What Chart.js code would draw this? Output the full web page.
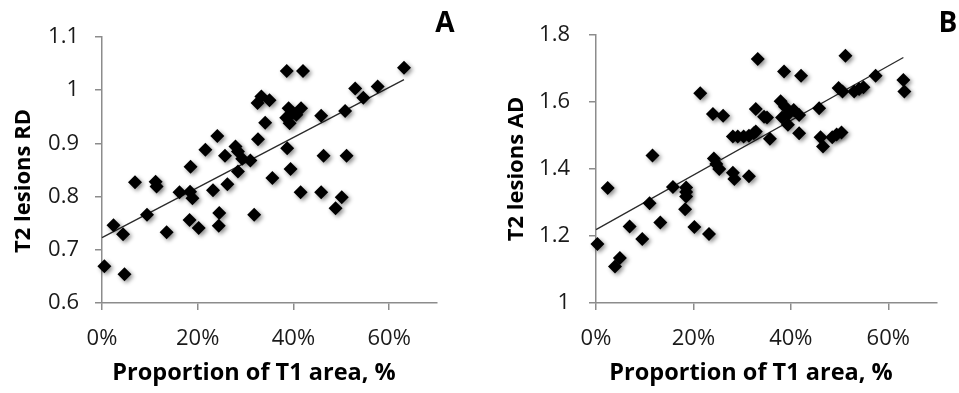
<!DOCTYPE html>
<html>
<head>
<meta charset="utf-8">
<script src="https://cdn.jsdelivr.net/npm/chart.js@4.4.1/dist/chart.umd.min.js"></script>
<style>
  html, body { margin: 0; padding: 0; background: #fff; }
  #wrap { position: relative; width: 959px; height: 393px; overflow: hidden; }
  .pane { position: absolute; top: 0; height: 393px; }
</style>
</head>
<body>
<div id="wrap">
  <div class="pane" style="left:0;width:480px"><canvas id="cA" width="480" height="393"></canvas></div>
  <div class="pane" style="left:480px;width:479px"><canvas id="cB" width="479" height="393"></canvas></div>
</div>
<script>
// ---------- Data ----------
const xTickValues = [0, 20, 40, 60];
const xTickLabels = ['0%', '20%', '40%', '60%'];

// Panel A: T2 lesions RD vs proportion of T1 area (%)
const rdProportion = [0.5, 2.4, 4.4, 4.7, 6.9, 9.4, 11.2, 11.4, 13.5, 16.2, 18.5, 18.4, 18.9, 18.3, 20.2, 21.6, 24.1, 23.2, 24.5, 24.4,
  25.7, 26.2, 27.9, 28.4, 28.4, 29.3, 31.0, 31.8, 32.6, 32.5, 33.3, 35.0, 34.1, 35.6, 38.6, 42.0, 38.5, 39.0, 39.9, 39.2,
  41.6, 40.6, 38.7, 39.4, 41.5, 45.8, 46.3, 45.8, 48.8, 50.1, 50.8, 51.1, 52.9, 54.6, 57.6, 63.1];
const rdValues = [0.669, 0.746, 0.729, 0.654, 0.827, 0.766, 0.828, 0.819, 0.733, 0.808, 0.856, 0.809, 0.797, 0.756, 0.741, 0.888, 0.914, 0.812, 0.769, 0.745,
  0.877, 0.823, 0.894, 0.885, 0.847, 0.871, 0.868, 0.766, 0.908, 0.976, 0.988, 0.981, 0.939, 0.835, 1.036, 1.036, 0.948, 0.966, 0.957, 0.938,
  0.966, 0.954, 0.891, 0.852, 0.808, 0.952, 0.877, 0.808, 0.778, 0.799, 0.961, 0.877, 1.003, 0.986, 1.007, 1.042];
const rdTrendX = [0, 63.1];
const rdTrendY = [0.723, 1.020];
const rdTicks = [0.6, 0.7, 0.8, 0.9, 1.0, 1.1];
const rdTickLabels = ['0.6', '0.7', '0.8', '0.9', '1', '1.1'];

// Panel B: T2 lesions AD vs proportion of T1 area (%)
const adProportion = [0.3, 2.4, 3.9, 4.9, 6.9, 9.5, 11.6, 11.0, 13.2, 15.8, 18.5, 18.5, 18.5, 18.3, 20.2, 21.4, 23.2, 24.0, 26.1, 24.2,
  24.7, 25.3, 28.1, 28.4, 28.1, 29.1, 30.3, 31.4, 32.4, 32.8, 31.4, 33.2, 32.8, 34.5, 35.1, 35.7, 37.9, 38.6, 38.2, 38.8,
  39.4, 39.6, 40.6, 41.7, 42.1, 41.7, 45.8, 46.1, 46.6, 48.5, 49.4, 50.4, 49.8, 50.6, 51.2, 53.0, 54.0, 54.9, 57.4, 63.1, 63.3];
const adValues = [1.176, 1.343, 1.109, 1.134, 1.228, 1.191, 1.440, 1.298, 1.240, 1.346, 1.345, 1.331, 1.318, 1.280, 1.227, 1.626, 1.206, 1.564, 1.559, 1.431,
  1.415, 1.400, 1.389, 1.370, 1.497, 1.497, 1.497, 1.499, 1.507, 1.512, 1.378, 1.728, 1.579, 1.556, 1.554, 1.490, 1.602, 1.691, 1.554, 1.586,
  1.532, 1.566, 1.576, 1.561, 1.678, 1.507, 1.581, 1.495, 1.467, 1.495, 1.503, 1.509, 1.642, 1.631, 1.738, 1.631, 1.639, 1.644, 1.678, 1.666, 1.631];
const adTrendX = [0, 63.1];
const adTrendY = [1.219, 1.733];
const adTicks = [1.0, 1.2, 1.4, 1.6, 1.8];
const adTickLabels = ['1', '1.2', '1.4', '1.6', '1.8'];

const panelLetters = ['A', 'B'];
const yTitles = ['T2 lesions RD', 'T2 lesions AD'];
const xTitle = 'Proportion of T1 area, %';

// ---------- Helpers ----------
const FONT = '"Open Sans", "DejaVu Sans", sans-serif';
const AXIS = '#8c8c8c';

const shadowPlugin = {
  id: 'markerShadow',
  beforeDatasetDraw(chart, args) {
    if (args.index !== 0) return;
    const c = chart.ctx;
    c.save();
    c.shadowColor = 'rgba(0,0,0,0.45)';
    c.shadowBlur = 4;
    c.shadowOffsetX = 2;
    c.shadowOffsetY = 2;
  },
  afterDatasetDraw(chart, args) {
    if (args.index !== 0) return;
    chart.ctx.restore();
  }
};

const textPlugin = {
  id: 'panelText',
  afterDraw(chart, args, o) {
    const c = chart.ctx;
    c.save();
    c.fillStyle = '#000';
    c.textAlign = 'center';
    c.textBaseline = 'middle';
    c.font = 'bold 28px ' + FONT;
    c.fillText(o.letter, o.letterX, o.letterY);
    c.font = 'bold 23.5px ' + FONT;
    c.fillText(o.xTitle, o.xTitleX, o.xTitleY);
    c.translate(o.yTitleX, o.yTitleY);
    c.rotate(-Math.PI / 2);
    c.font = 'bold 22px ' + FONT;
    c.fillText(o.yTitle, 0, 0);
    c.restore();
  }
};

function makeChart(id, cfg) {
  const pts = cfg.xs.map((x, i) => ({ x: x, y: cfg.ys[i] }));
  const trend = cfg.tx.map((x, i) => ({ x: x, y: cfg.ty[i] }));
  return new Chart(document.getElementById(id), {
    type: 'scatter',
    data: {
      datasets: [
        {
          data: pts,
          pointStyle: 'rectRot',
          pointRadius: 7,
          pointHoverRadius: 7,
          backgroundColor: '#000',
          borderColor: '#000',
          borderWidth: 0,
          clip: false,
          order: 0
        },
        {
          type: 'line',
          data: trend,
          borderColor: '#2a2a2a',
          borderWidth: 1.3,
          pointRadius: 0,
          fill: false,
          clip: false,
          order: 1
        }
      ]
    },
    options: {
      responsive: false,
      animation: false,
      events: [],
      layout: { padding: { left: 0, top: cfg.top, right: cfg.right, bottom: 0 } },
      plugins: {
        legend: { display: false },
        tooltip: { enabled: false },
        panelText: cfg.text
      },
      scales: {
        x: {
          type: 'linear',
          min: 0, max: 70,
          afterFit: s => { s.height = 393 - cfg.bottom; },
          afterBuildTicks: s => { s.ticks = xTickValues.map(v => ({ value: v })); },
          ticks: {
            autoSkip: false,
            maxRotation: 0,
            padding: 16,
            color: '#1a1a1a',
            font: { family: FONT, size: 22 },
            callback: v => xTickLabels[xTickValues.indexOf(v)]
          },
          grid: { drawOnChartArea: false, drawTicks: true, tickLength: 7, color: AXIS, lineWidth: 1.5 },
          border: { display: true, color: AXIS, width: 1.5 }
        },
        y: {
          type: 'linear',
          min: cfg.yTicks[0], max: cfg.yTicks[cfg.yTicks.length - 1],
          afterFit: s => { s.width = cfg.left; },
          afterBuildTicks: s => { s.ticks = cfg.yTicks.map(v => ({ value: v })); },
          ticks: {
            autoSkip: false,
            padding: cfg.yPad,
            color: '#1a1a1a',
            font: { family: FONT, size: 22 },
            callback: v => {
              const i = cfg.yTicks.findIndex(t => Math.abs(t - v) < 1e-9);
              return i >= 0 ? cfg.yLabels[i] : '';
            }
          },
          grid: { drawOnChartArea: false, drawTicks: true, tickLength: 7, color: AXIS, lineWidth: 1.5 },
          border: { display: true, color: AXIS, width: 1.5 }
        }
      }
    },
    plugins: [shadowPlugin, textPlugin]
  });
}

makeChart('cA', {
  xs: rdProportion, ys: rdValues, tx: rdTrendX, ty: rdTrendY,
  yTicks: rdTicks, yLabels: rdTickLabels,
  left: 102, top: 37, right: 43, bottom: 303, yPad: 16,
  text: { letter: panelLetters[0], letterX: 445, letterY: 24,
          xTitle: xTitle, xTitleX: 254, xTitleY: 373,
          yTitle: yTitles[0], yTitleX: 24, yTitleY: 181 }
});

makeChart('cB', {
  xs: adProportion, ys: adValues, tx: adTrendX, ty: adTrendY,
  yTicks: adTicks, yLabels: adTickLabels,
  left: 116, top: 35, right: 22, bottom: 303, yPad: 19,
  text: { letter: panelLetters[1], letterX: 468, letterY: 24,
          xTitle: xTitle, xTitleX: 271, xTitleY: 373,
          yTitle: yTitles[1], yTitleX: 37, yTitleY: 169 }
});
</script>
</body>
</html>
